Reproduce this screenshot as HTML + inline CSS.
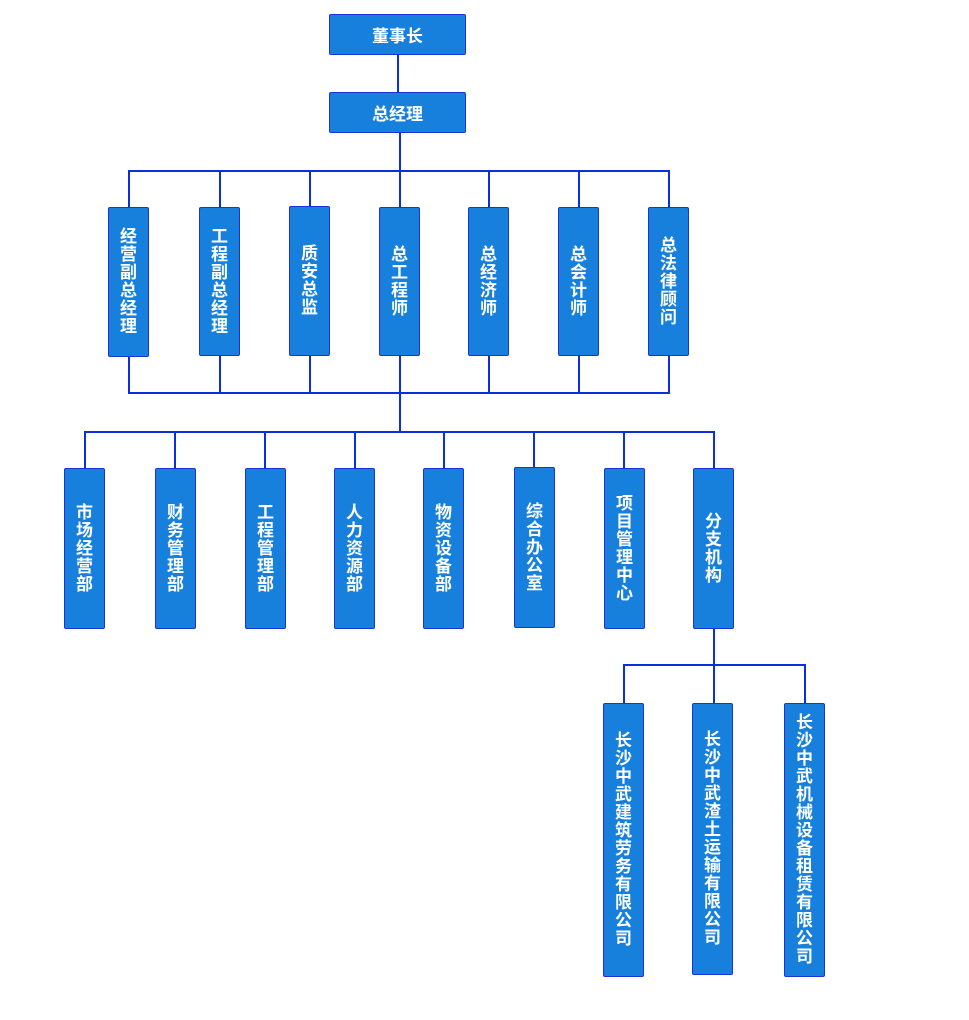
<!DOCTYPE html>
<html>
<head>
<meta charset="utf-8">
<style>
  html,body{margin:0;padding:0;background:#fff;}
  body{width:969px;height:1020px;position:relative;overflow:hidden;
    font-family:"Liberation Sans","Noto Sans CJK SC","WenQuanYi Zen Hei",sans-serif;}
  .b{position:absolute;box-sizing:border-box;background:#1680dc;border:1px solid #1b33d6;border-radius:2px;
     color:#fff;font-weight:bold;display:flex;align-items:center;justify-content:center;}
  .h{font-size:17px;}
  .v{font-size:17px;line-height:18px;text-align:center;flex-direction:column;}
  .v span{display:block;width:18px;}
  svg{position:absolute;left:0;top:0;}
</style>
</head>
<body>
<svg width="969" height="1020" viewBox="0 0 969 1020">
  <g stroke="#0b2fdc" stroke-width="2" fill="none">
    <line x1="398" y1="54" x2="398" y2="92"/>
    <line x1="400" y1="132" x2="400" y2="207"/>
    <line x1="128" y1="171" x2="670" y2="171"/>
    <line x1="129" y1="171" x2="129" y2="207"/>
    <line x1="220" y1="171" x2="220" y2="207"/>
    <line x1="310" y1="171" x2="310" y2="207"/>
    <line x1="489" y1="171" x2="489" y2="207"/>
    <line x1="579" y1="171" x2="579" y2="207"/>
    <line x1="669" y1="171" x2="669" y2="207"/>
    <line x1="129" y1="356" x2="129" y2="393"/>
    <line x1="220" y1="356" x2="220" y2="393"/>
    <line x1="310" y1="356" x2="310" y2="393"/>
    <line x1="400" y1="356" x2="400" y2="432"/>
    <line x1="489" y1="356" x2="489" y2="393"/>
    <line x1="579" y1="356" x2="579" y2="393"/>
    <line x1="669" y1="356" x2="669" y2="393"/>
    <line x1="128" y1="393" x2="670" y2="393"/>
    <line x1="84" y1="432" x2="715" y2="432"/>
    <line x1="85" y1="432" x2="85" y2="468"/>
    <line x1="175" y1="432" x2="175" y2="468"/>
    <line x1="265" y1="432" x2="265" y2="468"/>
    <line x1="355" y1="432" x2="355" y2="468"/>
    <line x1="444" y1="432" x2="444" y2="468"/>
    <line x1="534" y1="432" x2="534" y2="468"/>
    <line x1="624" y1="432" x2="624" y2="468"/>
    <line x1="714" y1="432" x2="714" y2="468"/>
    <line x1="714" y1="628" x2="714" y2="703"/>
    <line x1="623" y1="665" x2="806" y2="665"/>
    <line x1="624" y1="665" x2="624" y2="703"/>
    <line x1="805" y1="665" x2="805" y2="703"/>
  </g>
</svg>

<div class="b h" style="left:329px;top:14px;width:137px;height:41px;">董事长</div>
<div class="b h" style="left:329px;top:92px;width:137px;height:41px;">总经理</div>

<div class="b v" style="left:108px;top:207px;width:41px;height:150px;"><span>经</span><span>营</span><span>副</span><span>总</span><span>经</span><span>理</span></div>
<div class="b v" style="left:199px;top:207px;width:41px;height:149px;"><span>工</span><span>程</span><span>副</span><span>总</span><span>经</span><span>理</span></div>
<div class="b v" style="left:289px;top:206px;width:41px;height:150px;"><span>质</span><span>安</span><span>总</span><span>监</span></div>
<div class="b v" style="left:379px;top:207px;width:41px;height:149px;"><span>总</span><span>工</span><span>程</span><span>师</span></div>
<div class="b v" style="left:468px;top:207px;width:41px;height:149px;"><span>总</span><span>经</span><span>济</span><span>师</span></div>
<div class="b v" style="left:558px;top:207px;width:41px;height:149px;"><span>总</span><span>会</span><span>计</span><span>师</span></div>
<div class="b v" style="left:648px;top:207px;width:41px;height:149px;"><span>总</span><span>法</span><span>律</span><span>顾</span><span>问</span></div>

<div class="b v" style="left:64px;top:468px;width:41px;height:161px;"><span>市</span><span>场</span><span>经</span><span>营</span><span>部</span></div>
<div class="b v" style="left:155px;top:468px;width:41px;height:161px;"><span>财</span><span>务</span><span>管</span><span>理</span><span>部</span></div>
<div class="b v" style="left:245px;top:468px;width:41px;height:161px;"><span>工</span><span>程</span><span>管</span><span>理</span><span>部</span></div>
<div class="b v" style="left:334px;top:468px;width:41px;height:161px;"><span>人</span><span>力</span><span>资</span><span>源</span><span>部</span></div>
<div class="b v" style="left:423px;top:468px;width:41px;height:161px;"><span>物</span><span>资</span><span>设</span><span>备</span><span>部</span></div>
<div class="b v" style="left:514px;top:467px;width:41px;height:161px;"><span>综</span><span>合</span><span>办</span><span>公</span><span>室</span></div>
<div class="b v" style="left:604px;top:468px;width:41px;height:161px;"><span>项</span><span>目</span><span>管</span><span>理</span><span>中</span><span>心</span></div>
<div class="b v" style="left:693px;top:468px;width:41px;height:161px;"><span>分</span><span>支</span><span>机</span><span>构</span></div>

<div class="b v" style="left:603px;top:703px;width:41px;height:274px;"><span>长</span><span>沙</span><span>中</span><span>武</span><span>建</span><span>筑</span><span>劳</span><span>务</span><span>有</span><span>限</span><span>公</span><span>司</span></div>
<div class="b v" style="left:692px;top:703px;width:41px;height:272px;"><span>长</span><span>沙</span><span>中</span><span>武</span><span>渣</span><span>土</span><span>运</span><span>输</span><span>有</span><span>限</span><span>公</span><span>司</span></div>
<div class="b v" style="left:784px;top:703px;width:41px;height:274px;"><span>长</span><span>沙</span><span>中</span><span>武</span><span>机</span><span>械</span><span>设</span><span>备</span><span>租</span><span>赁</span><span>有</span><span>限</span><span>公</span><span>司</span></div>
</body>
</html>
